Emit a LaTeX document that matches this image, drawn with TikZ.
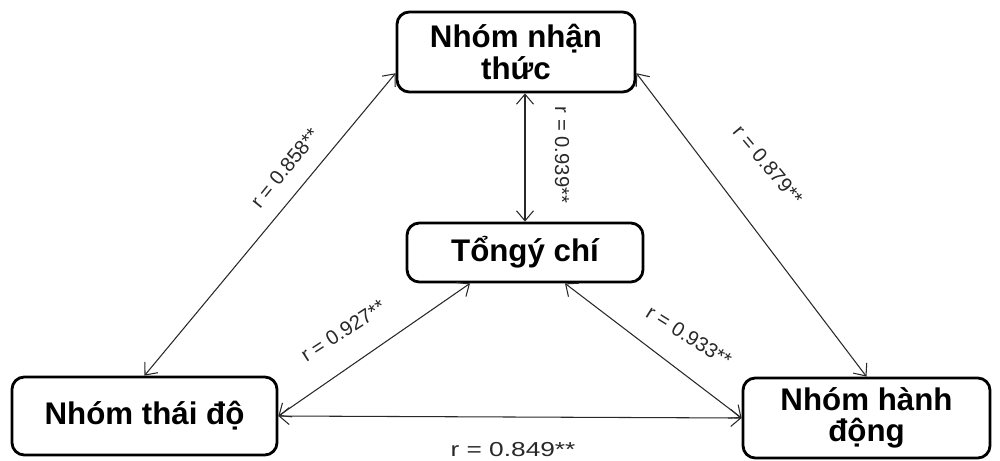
\documentclass[tikz,border=0pt]{standalone}
\usepackage{fontspec}
\setmainfont{Liberation Sans}
\usetikzlibrary{arrows.meta, positioning}
\definecolor{linegray}{RGB}{40,40,40}

\begin{document}
\begin{tikzpicture}[
  box/.style={draw, line width=1.6pt, rounded corners=7pt, align=center, inner sep=0pt,
    font=\bfseries\fontsize{17.8}{18}\selectfont},
  link/.style={draw=linegray, line width=0.6pt,
    {Straight Barb[length=2mm,width=3.4mm]}-{Straight Barb[length=2mm,width=3.4mm]}},
  corr/.style={inner sep=0pt, text=linegray, font=\fontsize{11.5}{12}\selectfont}
]
\useasboundingbox (0,0) rectangle (20,9.2);

\node[box, minimum width=4.76cm, minimum height=1.6cm] (nhanthuc) at (10.32,8.16) {Nhóm nhận\\thức};
\node[box, minimum width=4.72cm, minimum height=1.18cm] (ychi) at (10.5,4.15) {Tổngý chí};
\node[box, minimum width=5.3cm, minimum height=1.56cm] (thaido) at (2.89,0.88) {Nhóm thái độ};
\node[box, minimum width=4.94cm, minimum height=1.6cm] (hanhdong) at (17.33,0.84) {Nhóm hành\\động};

\draw[link] (nhanthuc.190) -- (thaido.north);
\draw[link] (nhanthuc.350) -- (hanhdong.north);
\draw[link] (nhanthuc.south -| ychi.north) -- (ychi.north);
\draw[link] ([xshift=-1.1cm]ychi.south) -- (thaido.east);
\draw[link] ([xshift=0.8cm]ychi.south) -- (hanhdong.west);
\draw[link] (thaido.east) -- (hanhdong.west);

\node[corr, rotate=51] (r1) at (5.7,5.84) {r = 0.858**};
\node[corr, rotate=-90] (r2) at (11.24,6.1) {r = 0.939**};
\node[corr, rotate=-50] (r3) at (15.36,5.9) {r = 0.879**};
\node[corr, rotate=33] (r4) at (6.86,2.58) {r = 0.927**};
\node[corr, rotate=-32] (r5) at (13.78,2.48) {r = 0.933**};
\node[corr] (r6) at (10.26,0.2) {\scalebox{1.3}[1]{r = 0.849**}};
\end{tikzpicture}
\end{document}
